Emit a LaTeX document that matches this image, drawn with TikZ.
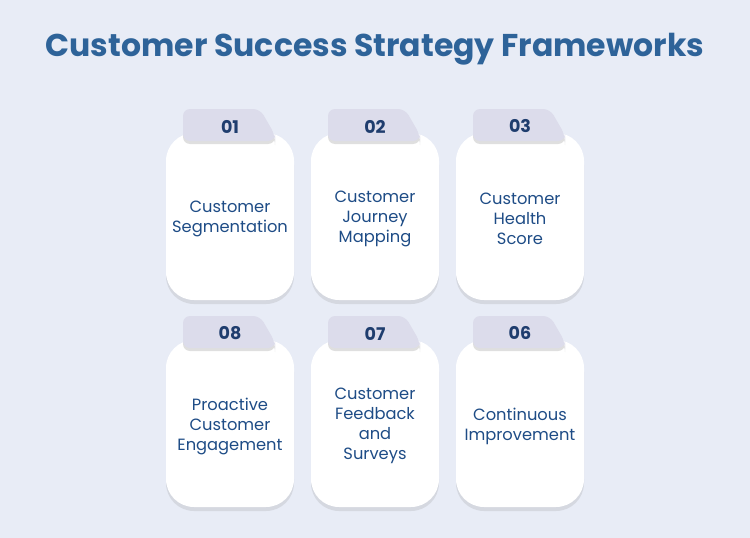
\documentclass[tikz,border=0pt]{standalone}
\usepackage{fontspec}
\setmainfont{Poppins}
\usetikzlibrary{shadows}

\definecolor{bgcol}{HTML}{E8ECF6}
\definecolor{titlecol}{HTML}{2E6399}
\definecolor{numcol}{HTML}{1F3D6E}
\definecolor{textcol}{HTML}{1E4C86}
\definecolor{tabcol}{HTML}{DCDCEB}

\begin{document}
\begin{tikzpicture}[
    x=1pt, y=-1pt,
    card/.style={
        rectangle, rounded corners=28pt,
        fill=white, draw=none,
        minimum width=128pt, minimum height=167pt,
        drop shadow={opacity=0.18, shadow xshift=0pt, shadow yshift=-4pt}
    },
    cardtext/.style={
        align=center, text=textcol,
        font=\fontsize{16.3}{20}\selectfont
    },
    tabshape/.style={
        fill=tabcol, rounded corners=7pt,
        drop shadow={opacity=0.25, shadow xshift=0pt, shadow yshift=-3pt}
    },
    numtext/.style={
        font=\fontsize{17.5}{20}\selectfont\bfseries, text=numcol
    }
]

% Background and title
\fill[bgcol] (0,0) rectangle (750,538);
\node[font=\fontsize{31.5}{36}\selectfont\bfseries, text=titlecol] (title) at (375,49) {Customer Success Strategy Frameworks};

% Cards with number tabs
\foreach \cx/\cy/\num/\txt in {
    230/216.5/01/{Customer\\Segmentation},
    375/216.5/02/{Customer\\Journey\\Mapping},
    520/216.5/03/{Customer\\Health\\Score},
    230/423.5/08/{Proactive\\Customer\\Engagement},
    375/423.5/07/{Customer\\Feedback\\and\\Surveys},
    520/423.5/06/{Continuous\\Improvement}} {
    \node[card] (card\num) at (\cx,\cy) {};
    \node[cardtext] (text\num) at (\cx,\cy+2.5) {\txt};
    \fill[tabshape] (\cx-47,\cy-107.5) -- (\cx+30,\cy-107.5) -- (\cx+45,\cy-81.5)
        -- (\cx+45,\cy-75.5) -- (\cx-47,\cy-75.5) -- cycle;
    \node[numtext] (num\num) at (\cx,\cy-90) {\num};
}

\end{tikzpicture}
\end{document}
